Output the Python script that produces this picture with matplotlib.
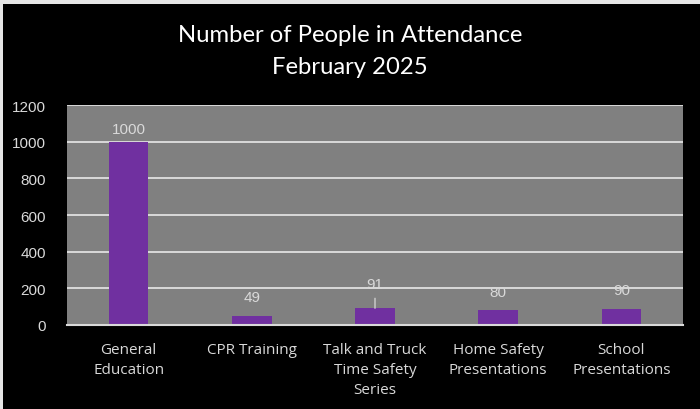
import matplotlib.pyplot as plt
from matplotlib.patches import Rectangle

categories = ["General\nEducation", "CPR Training", "Talk and Truck\nTime Safety\nSeries",
              "Home Safety\nPresentations", "School\nPresentations"]
attendance = [1000, 49, 91, 80, 90]
# label offsets above each bar, in pixels
label_offsets = [13, 19, 24, 18, 18]
y_ticks = [0, 200, 400, 600, 800, 1000, 1200]

purple = "#7030a0"
light = "#d9d9d9"

fig = plt.figure(figsize=(7, 4.1), dpi=100, facecolor="#e6e6e6")
fig.patches.append(Rectangle((3 / 700, 0), 1, 1 - 5 / 410, transform=fig.transFigure,
                             facecolor="black", edgecolor="none", zorder=-5))

ax = fig.add_axes([67 / 700, 84 / 410, 616 / 700, 220 / 410])
ax.set_facecolor("#808080")

x = list(range(len(categories)))
ax.bar(x, attendance, width=0.32, color=purple, zorder=3)

ax.set_xlim(-0.5, 4.5)
ax.set_ylim(0, 1200)
ax.set_yticks(y_ticks)
ax.set_yticklabels([str(t) for t in y_ticks], color=light, fontsize=11, family="Liberation Sans")
ax.set_xticks(x)
ax.set_xticklabels(categories, color=light, fontsize=11, family="Open Sans", linespacing=1.45)
ax.tick_params(axis="y", length=0, pad=15)
ax.tick_params(axis="x", length=0, pad=12)

ax.grid(axis="y", color=light, linewidth=1.4, zorder=1)
for side in ["top", "right", "left"]:
    ax.spines[side].set_visible(False)
ax.spines["bottom"].set_color(light)
ax.spines["bottom"].set_linewidth(1.5)
ax.spines["bottom"].set_zorder(4)

for i, (v, off) in enumerate(zip(attendance, label_offsets)):
    arrow = None
    if v == 91:
        arrow = dict(arrowstyle="-", color=light, lw=0.9, shrinkA=3, shrinkB=0)
    ax.annotate(str(v), (i, v), xytext=(0, off), textcoords="offset pixels",
                ha="center", va="center", color=light, fontsize=11,
                family="Liberation Sans", arrowprops=arrow, zorder=5)

fig.text(0.5, 1 - 35 / 410, "Number of People in Attendance", ha="center", va="center",
         color="white", fontsize=17.2, family="Lato")
fig.text(0.5, 1 - 68 / 410, "February 2025", ha="center", va="center",
         color="white", fontsize=17.2, family="Lato")

fig.savefig("out.png", dpi=100, facecolor=fig.get_facecolor())
